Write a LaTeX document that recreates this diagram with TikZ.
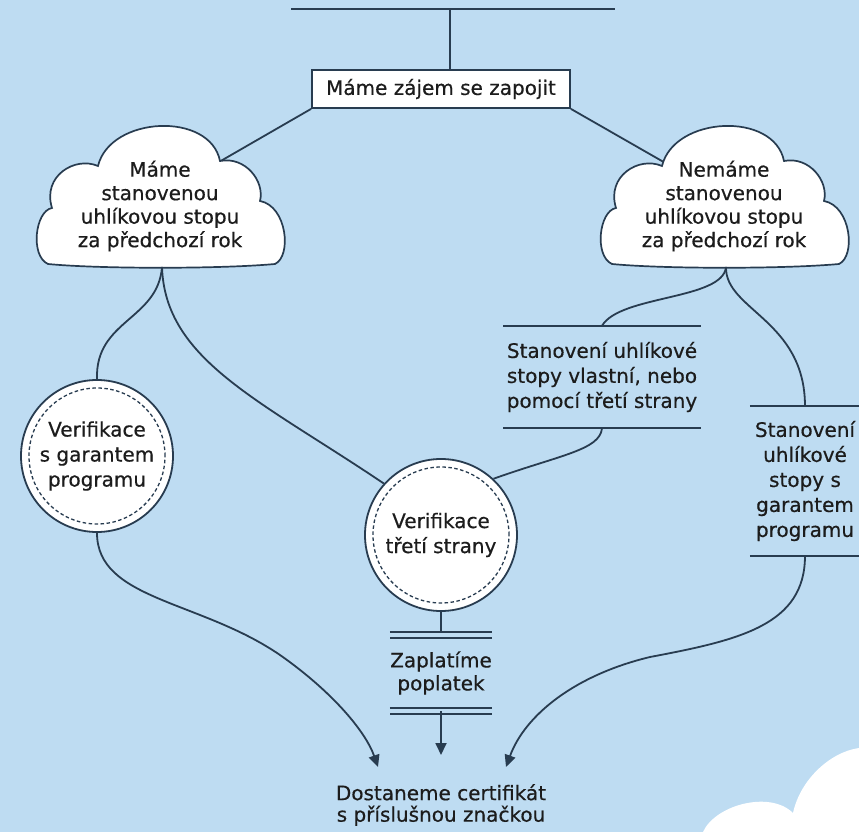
\documentclass[tikz,border=0pt]{standalone}
\usepackage{fontspec}
\setmainfont{DejaVu Sans}[FakeBold=0.5]
\usetikzlibrary{arrows.meta}
\definecolor{bgblue}{RGB}{190,220,242}
\definecolor{inkline}{RGB}{40,60,80}
\definecolor{inktext}{RGB}{28,28,28}
% cloud outline round a centre, with named ends for the connectors
\newcommand{\drawcloud}[2]{%
  \begin{scope}[shift={#2}]
    \draw[draw=inkline, line width=1.7pt, fill=white]
      (-112,68) .. controls (-130,60) and (-125,15) .. (-108,12)
      .. controls (-118,-20) and (-85,-40) .. (-62,-30)
      .. controls (-50,-80) and (50,-85) .. (60,-35)
      .. controls (85,-40) and (105,-15) .. (100,5)
      .. controls (127,10) and (132,60) .. (115,68)
      .. controls (60,73) and (-60,73) .. (-112,68) -- cycle;
    \coordinate (#1-nw) at (-51,-49);
    \coordinate (#1-ne) at (54,-48);
    \coordinate (#1-s) at (2,71);
  \end{scope}}

\begin{document}
\begin{tikzpicture}[x=1pt, y=-1pt,
    conn/.style={draw=inkline, line width=1.8pt},
    arrowconn/.style={conn, -{Triangle[length=12pt,width=11pt]}},
    label/.style={text=inktext, font=\fontsize{20}{23.5}\selectfont, align=center},
    startbox/.style={label, draw=inkline, line width=1.8pt, fill=white, minimum width=258pt, minimum height=38pt, inner sep=0pt},
    verify/.style={label, font=\fontsize{20}{25}\selectfont, circle, draw=inkline, line width=1.8pt, fill=white, minimum size=152pt, inner sep=0pt},
    ruled/.style={label, font=\fontsize{20}{25}\selectfont, inner sep=0pt},
    twin/.style={draw=inkline, line width=1.6pt, double=bgblue, double distance=4.5pt}]
  \path[use as bounding box, fill=bgblue] (0,0) rectangle (859,832);
  % cloud in the corner
  \fill[white] (703,832) .. controls (715,805) and (770,790) .. (793,813)
    .. controls (800,780) and (830,752) .. (859,748) -- (859,832) -- cycle;

  % top bar
  \coordinate (barl) at (291,9);
  \coordinate (barr) at (615,9);
  \coordinate (barj) at (450,9);
  \node[startbox] (start) at (441,89) {Máme zájem se zapojit};
  \draw[conn] (barl) -- (barr);
  \draw[conn] (barj) -- (barj |- start.north);

  % the two clouds
  \draw[conn] (start.south west) -- (160,196);
  \draw[conn] (start.south east) -- (723,196);
  \drawcloud{have}{(160,196)}
  \drawcloud{havenot}{(724,196)}
  \node[label] (havetxt) at (160,206) {Máme\\stanovenou\\uhlíkovou stopu\\za předchozí rok};
  \node[label] (havenottxt) at (724,206) {Nemáme\\stanovenou\\uhlíkovou stopu\\za předchozí rok};

  % verification circles
  \node[verify] (vown) at (97,456) {Verifikace\\s garantem\\programu};
  \node[verify] (vthird) at (441,535) {Verifikace\\třetí strany};
  \draw[inkline, line width=1.3pt, dash pattern=on 3.5pt off 2.5pt] (vown) circle[radius=68pt];
  \draw[inkline, line width=1.3pt, dash pattern=on 3.5pt off 2.5pt] (vthird) circle[radius=68pt];

  % footprint boxes
  \node[ruled, minimum width=197pt, minimum height=102pt] (calc) at (602,377) {Stanovení uhlíkové\\stopy vlastní, nebo\\pomocí třetí strany};
  \draw[conn] (calc.north west) -- (calc.north east);
  \draw[conn] (calc.south west) -- (calc.south east);
  \node[ruled, minimum width=110pt, minimum height=149pt] (calcg) at (805,481) {Stanovení\\uhlíkové\\stopy s\\garantem\\programu};
  \draw[conn] (calcg.north west) -- (calcg.north east);
  \draw[conn] (calcg.south west) -- (calcg.south east);

  % fee
  \node[ruled, font=\fontsize{20}{23}\selectfont, minimum width=98pt, minimum height=76pt] (pay) at (441,673) {Zaplatíme\\poplatek};
  \draw[conn] (vthird.south) -- (pay.north);
  \draw[twin] (pay.north west) -- (pay.north east);
  \draw[twin] (pay.south west) -- (pay.south east);

  % result
  \node[label, font=\fontsize{20}{21.5}\selectfont] (cert) at (441,805) {Dostaneme certifikát\\s příslušnou značkou};
  \coordinate (inl) at (378,767);
  \coordinate (inm) at (441,755);
  \coordinate (inr) at (506,767);

  \draw[conn] (have-s) .. controls (158,320) and (95,320) .. (vown.north);
  \draw[conn] (have-s) .. controls (165,360) and (260,400) .. (vthird.138);
  \draw[conn] (havenot-s) .. controls (723,300) and (620,295) .. (calc.north);
  \draw[conn] (havenot-s) .. controls (725,310) and (805,320) .. (calcg.north);
  \draw[conn] (calc.south) .. controls (600,450) and (560,455) .. (vthird.47);
  \draw[arrowconn] (vown.south) .. controls (97,600) and (200,600) .. (280,655)
    .. controls (330,690) and (365,730) .. (inl);
  \draw[arrowconn] (calcg.south) .. controls (805,625) and (740,640) .. (650,657)
    .. controls (575,675) and (525,715) .. (inr);
  \draw[arrowconn] (pay.south) -- (inm);
\end{tikzpicture}
\end{document}
